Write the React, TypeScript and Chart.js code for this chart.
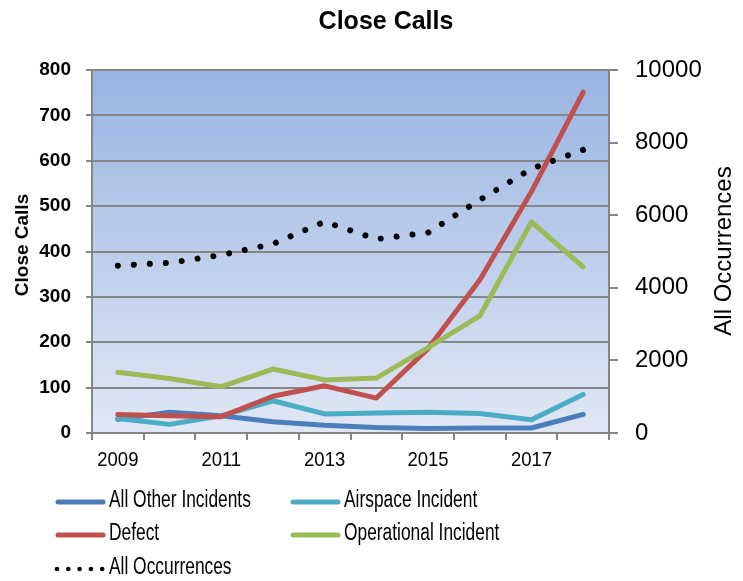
import React, { useEffect, useRef } from "react";
import { Chart, registerables } from "chart.js";

Chart.register(...registerables);

const years = ["2009", "2010", "2011", "2012", "2013", "2014", "2015", "2016", "2017", "2018"];
const allOtherIncidents = [30, 46, 38, 25, 17, 12, 10, 11, 11, 41];
const airspaceIncident = [32, 19, 38, 71, 42, 44, 46, 43, 29, 85];
const defect = [41, 38, 36, 81, 104, 77, 186, 337, 532, 751];
const operationalIncident = [134, 120, 102, 141, 117, 121, 188, 258, 465, 366];
const allOccurrences = [4610, 4690, 4900, 5210, 5820, 5340, 5520, 6420, 7280, 7800];

const leftTicks = { min: 0, max: 800, step: 100 };
const rightTicks = { min: 0, max: 10000, step: 2000 };

const SANS = "'Liberation Sans', Arial, sans-serif";
const GRID = "#868686";

function narrowText(ctx: any, text: string, x: number, y: number, size: number, sx: number, align: string) {
  ctx.save();
  ctx.font = `${size}px ${SANS}`;
  ctx.textBaseline = "middle";
  ctx.textAlign = align;
  ctx.translate(x, y);
  ctx.scale(sx, 1);
  ctx.fillText(text, 0, 0);
  ctx.restore();
}

const decorPlugin = {
  id: "decor",
  beforeDraw(chart: any) {
    const { ctx, chartArea: a } = chart;
    const g = ctx.createLinearGradient(0, a.top, 0, a.bottom);
    g.addColorStop(0, "#98b4e2");
    g.addColorStop(1, "#e1e8f5");
    ctx.save();
    ctx.fillStyle = g;
    ctx.fillRect(a.left, a.top, a.right - a.left, a.bottom - a.top);
    ctx.restore();
  },
  afterDraw(chart: any) {
    const { ctx } = chart;
    ctx.save();
    ctx.fillStyle = "#000";
    // title
    ctx.font = `bold 25px ${SANS}`;
    ctx.textAlign = "center";
    ctx.textBaseline = "middle";
    ctx.fillText("Close Calls", 386, 22);
    // left axis title
    ctx.save();
    ctx.translate(23, 245);
    ctx.rotate(-Math.PI / 2);
    ctx.font = `bold 19px ${SANS}`;
    ctx.fillText("Close Calls", 0, 0);
    ctx.restore();
    // right axis title
    ctx.save();
    ctx.translate(724, 251);
    ctx.rotate(-Math.PI / 2);
    ctx.font = `24px ${SANS}`;
    ctx.fillText("All Occurrences", 0, 0);
    ctx.restore();

    // x-axis labels (condensed), positioned by the category scale
    const xs = chart.scales.x;
    ctx.fillStyle = "#000";
    years.forEach((yr, i) => {
      if (i % 2 !== 0) return;
      narrowText(ctx, yr, xs.getPixelForValue(i), 460, 21, 0.88, "center");
    });

    // legend
    const ds = chart.data.datasets;
    const slots = [
      { i: 0, x: 56, y: 501 },
      { i: 1, x: 291, y: 501 },
      { i: 2, x: 56, y: 534 },
      { i: 3, x: 291, y: 534 },
      { i: 4, x: 56, y: 568 },
    ];
    for (const s of slots) {
      const d = ds[s.i];
      ctx.save();
      ctx.strokeStyle = d.borderColor;
      ctx.lineCap = "round";
      if (d.borderDash && d.borderDash.length) {
        ctx.fillStyle = d.borderColor;
        for (let k = 0; k < 5; k++) {
          ctx.beginPath();
          ctx.arc(s.x + 1 + k * 11.3, s.y + 1, 2.3, 0, Math.PI * 2);
          ctx.fill();
        }
      } else {
        ctx.lineWidth = 5;
        ctx.beginPath();
        ctx.moveTo(s.x + 2, s.y + 1);
        ctx.lineTo(s.x + 47, s.y + 1);
        ctx.stroke();
      }
      ctx.restore();
      ctx.fillStyle = "#000";
      narrowText(ctx, d.label, s.x + 53, s.y, 23, 0.755, "left");
    }
    ctx.restore();
  },
};

export default function App() {
  const ref = useRef<HTMLCanvasElement | null>(null);
  useEffect(() => {
    document.body.style.margin = "0";
    if (!ref.current) return;
    const lineStyle = {
      borderWidth: 5,
      pointRadius: 0,
      tension: 0,
      borderCapStyle: "round" as const,
      borderJoinStyle: "round" as const,
      fill: false,
      yAxisID: "y",
    };
    const chart = new Chart(ref.current, {
      type: "line",
      data: {
        labels: years,
        datasets: [
          { ...lineStyle, label: "All Other Incidents", data: allOtherIncidents, borderColor: "#4a7ebb", order: 5 },
          { ...lineStyle, label: "Airspace Incident", data: airspaceIncident, borderColor: "#4bacc6", order: 4 },
          { ...lineStyle, label: "Defect", data: defect, borderColor: "#c0504d", order: 3 },
          { ...lineStyle, label: "Operational Incident", data: operationalIncident, borderColor: "#9bbb59", order: 2 },
          {
            ...lineStyle,
            label: "All Occurrences",
            data: allOccurrences,
            borderColor: "#000000",
            borderWidth: 6,
            borderDash: [0.01, 16],
            yAxisID: "y2",
            order: 1,
          },
        ],
      },
      options: {
        responsive: false,
        animation: false,
        events: [],
        layout: { padding: { top: 70, left: 0, right: 0, bottom: 0 } },
        plugins: { legend: { display: false }, title: { display: false }, tooltip: { enabled: false } },
        scales: {
          x: {
            type: "category",
            offset: true,
            afterFit: (s: any) => { s.height = 148; },
            grid: { offset: true, drawOnChartArea: false, drawTicks: true, tickLength: 7, color: GRID, lineWidth: 2 },
            border: { color: GRID, width: 2 },
            ticks: { display: false, autoSkip: false, maxRotation: 0 },
          },
          y: {
            position: "left",
            min: leftTicks.min,
            max: leftTicks.max,
            afterFit: (s: any) => { s.width = 92; },
            grid: { color: GRID, lineWidth: 2, tickLength: 6 },
            border: { color: GRID, width: 2 },
            ticks: { stepSize: leftTicks.step, padding: 15, color: "#000", font: { family: SANS, size: 19, weight: "bold" } },
          },
          y2: {
            position: "right",
            min: rightTicks.min,
            max: rightTicks.max,
            afterFit: (s: any) => { s.width = 134; },
            grid: { drawOnChartArea: false, color: GRID, lineWidth: 2, tickLength: 9 },
            border: { color: GRID, width: 2 },
            ticks: {
              stepSize: rightTicks.step,
              padding: 17,
              color: "#000",
              font: { family: SANS, size: 24 },
              callback: (v: any) => String(v),
            },
          },
        },
      } as any,
      plugins: [decorPlugin],
    });
    return () => chart.destroy();
  }, []);
  return <canvas ref={ref} width={743} height={581} style={{ display: "block" }} />;
}
